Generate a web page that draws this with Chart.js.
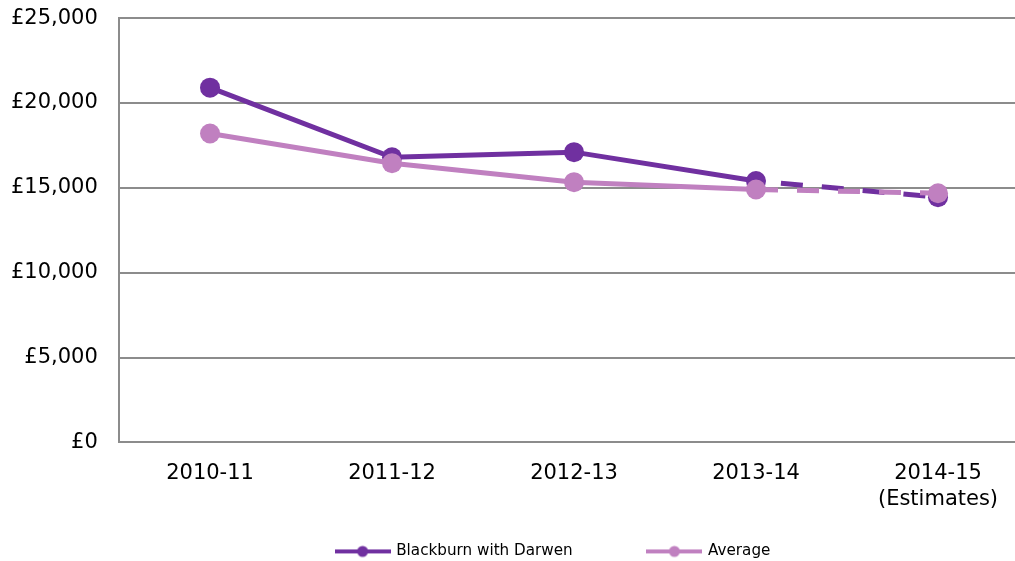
<!DOCTYPE html>
<html>
<head>
<meta charset="utf-8">
<script src="https://cdn.jsdelivr.net/npm/chart.js@4"></script>
<style>
  html, body { margin: 0; padding: 0; background: #fff; overflow: hidden; }
  #wrap { width: 1015px; height: 561px; overflow: hidden; }
</style>
</head>
<body>
<div id="wrap"><canvas id="costChart" width="1104" height="561"></canvas></div>
<script>
// Chart data
const categories = ['2010-11', '2011-12', '2012-13', '2013-14', ['2014-15', '(Estimates)']];
const blackburnValues = [20900, 16800, 17100, 15400, 14450];
const averageValues = [18200, 16450, 15330, 14900, 14680];
const yTicks = [0, 5000, 10000, 15000, 20000, 25000];

const darkPurple = '#7030A0';
const lightPurple = '#C080C0';
const gridGrey = '#8C8C8C';

// dashed line for the estimate year
function estimateDash(ctx) {
  return ctx.p1DataIndex === categories.length - 1 ? [22, 19] : undefined;
}

// legend marker: short line with a dot in the middle
function legendMarker(colour) {
  const c = document.createElement('canvas');
  c.width = 56;
  c.height = 14;
  const g = c.getContext('2d');
  g.strokeStyle = colour;
  g.lineWidth = 4;
  g.beginPath();
  g.moveTo(0, 7);
  g.lineTo(56, 7);
  g.stroke();
  g.fillStyle = colour;
  g.beginPath();
  g.arc(28, 7, 5.5, 0, Math.PI * 2);
  g.fill();
  return c;
}

// the legend sits a bit right of the plot centre in the original
const legendShift = {
  id: 'legendShift',
  afterLayout(chart) {
    if (chart.legend) {
      chart.legend.left += 42;
      chart.legend.right += 42;
    }
  }
};

const ctx = document.getElementById('costChart').getContext('2d');

window.costChart = new Chart(ctx, {
  type: 'line',
  data: {
    labels: categories,
    datasets: [{
      label: 'Blackburn with Darwen',
      data: blackburnValues,
      borderColor: darkPurple,
      backgroundColor: darkPurple,
      borderWidth: 5,
      pointRadius: 10,
      pointBorderWidth: 0,
      tension: 0,
      order: 2,
      segment: { borderDash: estimateDash, borderDashOffset: 16 }
    }, {
      label: 'Average',
      data: averageValues,
      borderColor: lightPurple,
      backgroundColor: lightPurple,
      borderWidth: 5,
      pointRadius: 10,
      pointBorderWidth: 0,
      tension: 0,
      order: 1,
      segment: { borderDash: estimateDash, borderDashOffset: 0 }
    }]
  },
  plugins: [legendShift],
  options: {
    responsive: false,
    animation: false,
    devicePixelRatio: 1,
    layout: {
      padding: { left: -6, right: 75, top: 0, bottom: -8 }
    },
    scales: {
      x: {
        offset: true,
        grid: { display: false, drawTicks: false },
        border: { display: true, color: gridGrey, width: 2 },
        ticks: {
          color: '#000',
          padding: 19,
          maxRotation: 0,
          font: { family: 'DejaVu Sans', size: 21, lineHeight: 1.2 }
        }
      },
      y: {
        min: 0,
        max: 25000,
        afterBuildTicks: function(axis) {
          axis.ticks = yTicks.map(v => ({ value: v }));
        },
        grid: { color: gridGrey, lineWidth: 2, drawTicks: false },
        border: { display: true, color: gridGrey, width: 2 },
        ticks: {
          color: '#000',
          padding: 17,
          // small line height so the top label does not push the plot down
          font: { family: 'DejaVu Sans', size: 21, lineHeight: 0.1 },
          callback: function(value) {
            return '£' + value.toLocaleString('en-GB') + '\u2009';
          }
        }
      }
    },
    plugins: {
      tooltip: { enabled: false },
      legend: {
        position: 'bottom',
        labels: {
          color: '#000',
          usePointStyle: true,
          pointStyleWidth: 52,
          padding: 13,
          font: { family: 'DejaVu Sans', size: 15.2 },
          generateLabels: function(chart) {
            return chart.data.datasets.map((ds, i) => ({
              // trailing spaces keep the wide gap between the two entries
              text: i === 0 ? ds.label + '             ' : ds.label,
              pointStyle: legendMarker(ds.borderColor),
              fillStyle: ds.borderColor,
              strokeStyle: ds.borderColor,
              lineWidth: 0,
              fontColor: '#000',
              datasetIndex: i
            }));
          }
        }
      }
    }
  }
});
</script>
</body>
</html>
